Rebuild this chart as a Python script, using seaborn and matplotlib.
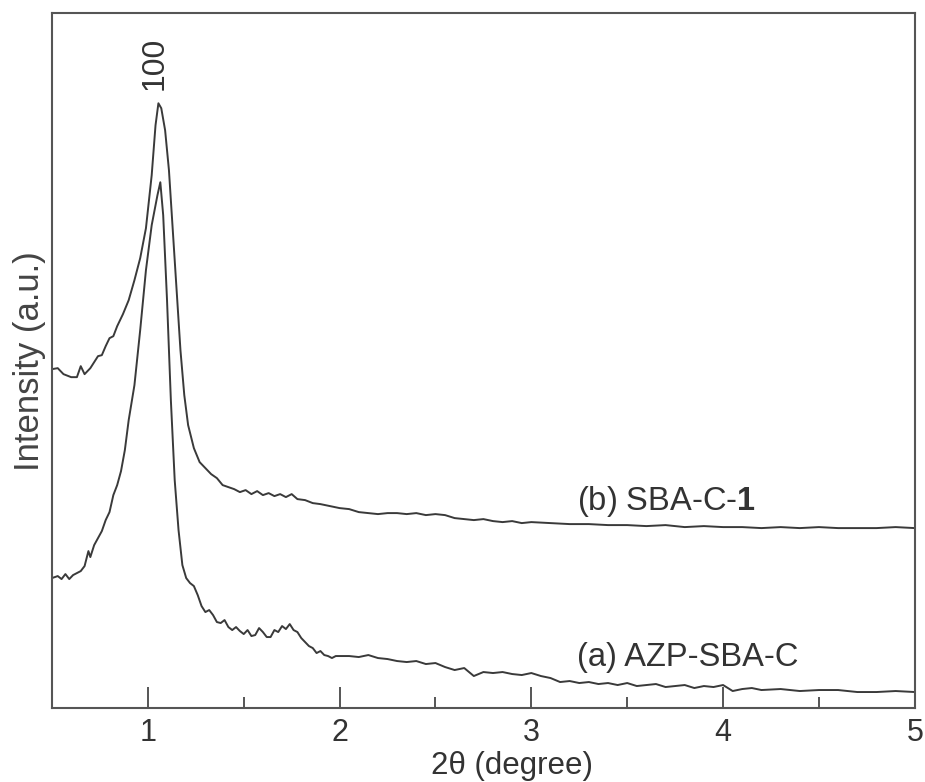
import numpy as np
import pandas as pd
import matplotlib
matplotlib.use("Agg")
import matplotlib.pyplot as plt
import seaborn as sns

# ---- data (2theta in degrees, intensity in arbitrary units) ----
x_b = [0.50, 0.53, 0.56, 0.60, 0.63, 0.65, 0.67, 0.70, 0.72, 0.74, 0.76, 0.78, 0.80, 0.82, 0.84,
       0.87, 0.90, 0.93, 0.96, 0.99, 1.02, 1.04, 1.055, 1.07, 1.09, 1.11, 1.13, 1.15, 1.17, 1.19,
       1.21, 1.24, 1.27, 1.30, 1.33, 1.36, 1.39, 1.42, 1.45, 1.48, 1.51, 1.54, 1.57, 1.60, 1.63,
       1.66, 1.69, 1.72, 1.75, 1.78, 1.82, 1.86, 1.90, 1.95, 2.00, 2.05, 2.10, 2.15, 2.20, 2.25,
       2.30, 2.35, 2.40, 2.45, 2.50, 2.55, 2.60, 2.65, 2.70, 2.75, 2.80, 2.85, 2.90, 2.95, 3.00,
       3.10, 3.20, 3.30, 3.40, 3.50, 3.60, 3.70, 3.80, 3.90, 4.00, 4.10, 4.20, 4.30, 4.40, 4.50,
       4.60, 4.70, 4.80, 4.90, 5.00]
y_b = [339, 340, 334, 331, 331, 342, 334, 340, 346, 352, 353, 362, 370, 372, 382,
       394, 408, 428, 450, 480, 533, 583, 605, 600, 578, 538, 478, 418, 358, 313,
       283, 260, 246, 240, 234, 230, 223, 221, 219, 216, 218, 214, 217, 213, 215,
       212, 214, 211, 214, 209, 208, 205, 204, 202, 200, 199, 196, 195, 194, 195,
       195, 194, 195, 193, 194, 193, 190, 189, 188, 189, 187, 186, 187, 185, 186,
       185, 184, 184, 183, 183, 182, 183, 181, 182, 181, 181, 180, 181, 180, 181,
       180, 180, 180, 181, 180]

x_a = [0.50, 0.53, 0.55, 0.57, 0.59, 0.61, 0.63, 0.65, 0.67, 0.69, 0.70, 0.72, 0.74, 0.76, 0.78,
       0.80, 0.82, 0.84, 0.86, 0.88, 0.90, 0.93, 0.96, 0.99, 1.02, 1.05, 1.065, 1.08, 1.10, 1.12,
       1.14, 1.16, 1.18, 1.20, 1.22, 1.24, 1.26, 1.28, 1.30, 1.32, 1.34, 1.36, 1.38, 1.40, 1.42,
       1.44, 1.46, 1.48, 1.50, 1.52, 1.54, 1.56, 1.58, 1.60, 1.62, 1.64, 1.66, 1.68, 1.70, 1.72,
       1.74, 1.76, 1.78, 1.80, 1.82, 1.84, 1.86, 1.88, 1.90, 1.92, 1.94, 1.96, 1.98, 2.00, 2.05,
       2.10, 2.15, 2.20, 2.25, 2.30, 2.35, 2.40, 2.45, 2.50, 2.55, 2.60, 2.65, 2.70, 2.75, 2.80,
       2.85, 2.90, 2.95, 3.00, 3.05, 3.10, 3.15, 3.20, 3.25, 3.30, 3.35, 3.40, 3.45, 3.50, 3.55,
       3.60, 3.65, 3.70, 3.75, 3.80, 3.85, 3.90, 3.95, 4.00, 4.05, 4.10, 4.15, 4.20, 4.30, 4.40,
       4.50, 4.60, 4.70, 4.80, 4.90, 5.00]
y_a = [130, 132, 129, 134, 129, 133, 135, 137, 142, 157, 151, 163, 170, 177, 188,
       196, 213, 223, 237, 258, 288, 323, 378, 438, 483, 513, 526, 493, 408, 308,
       228, 178, 143, 130, 125, 122, 113, 102, 96, 98, 93, 86, 85, 88, 81,
       78, 81, 77, 74, 78, 72, 73, 80, 76, 71, 71, 78, 76, 82, 79,
       84, 78, 76, 70, 66, 62, 60, 55, 57, 53, 52, 50, 52, 52, 52,
       51, 53, 50, 49, 47, 46, 47, 44, 45, 41, 38, 40, 32, 36, 35,
       36, 34, 33, 35, 32, 30, 26, 27, 25, 26, 24, 25, 23, 25, 22,
       23, 24, 21, 22, 23, 20, 22, 21, 23, 17, 19, 20, 18, 19, 17,
       18, 18, 16, 16, 17, 16]

labels = ["(a) AZP-SBA-C", "(b) SBA-C-1"]

df = pd.concat([
    pd.DataFrame({"two_theta": x_a, "intensity": y_a, "sample": labels[0]}),
    pd.DataFrame({"two_theta": x_b, "intensity": y_b, "sample": labels[1]}),
])

sns.set_theme(style="ticks")
plt.rcParams["font.family"] = ["Liberation Sans", "DejaVu Sans"]
plt.rcParams["mathtext.fontset"] = "custom"
plt.rcParams["mathtext.bf"] = "Liberation Sans:bold"
plt.rcParams["mathtext.rm"] = "Liberation Sans"

fig = plt.figure(figsize=(9.25, 7.82), dpi=100)
ax = fig.add_axes([0.0562, 0.0946, 0.9328, 0.8884])

line_col = "#3a3a3a"
sns.lineplot(data=df, x="two_theta", y="intensity", units="sample", estimator=None,
             color=line_col, linewidth=1.4, sort=False, ax=ax, legend=False)

ax.set_xlim(0.5, 5)
ax.set_ylim(0, 695)
ax.set_xticks([1, 2, 3, 4, 5])
ax.set_xticks([1.5, 2.5, 3.5, 4.5], minor=True)
ax.set_yticks([])
ax.tick_params(axis="x", which="major", direction="in", length=15, width=1.4,
               color="#555555", labelsize=22, pad=7.5, labelcolor="#333333")
ax.tick_params(axis="x", which="minor", direction="in", length=8, width=1.4, color="#555555")
for s in ax.spines.values():
    s.set_color("#555555")
    s.set_linewidth(1.5)
    s.set_visible(True)

ax.set_xlabel("2θ (degree)", fontsize=22.5, color="#333333")
ax.xaxis.label.set_va("baseline")
ax.xaxis.set_label_coords(0.533, -0.0945)

ax.set_ylabel("Intensity (a.u.)", fontsize=25, color="#444444")
ax.yaxis.label.set_va("center")
ax.yaxis.set_label_coords(-0.026, 0.5)

ax.text(1.037, 645, "100", rotation=90, ha="center", va="center", fontsize=23, color="#333333")
ax.text(3.24, 207, r"(b) SBA-C-$\mathbf{1}$", ha="left", va="center", fontsize=23.5, color="#333333")
ax.text(3.24, 51, "(a) AZP-SBA-C", ha="left", va="center", fontsize=23.5, color="#333333")

fig.savefig("out.png", dpi=100)
